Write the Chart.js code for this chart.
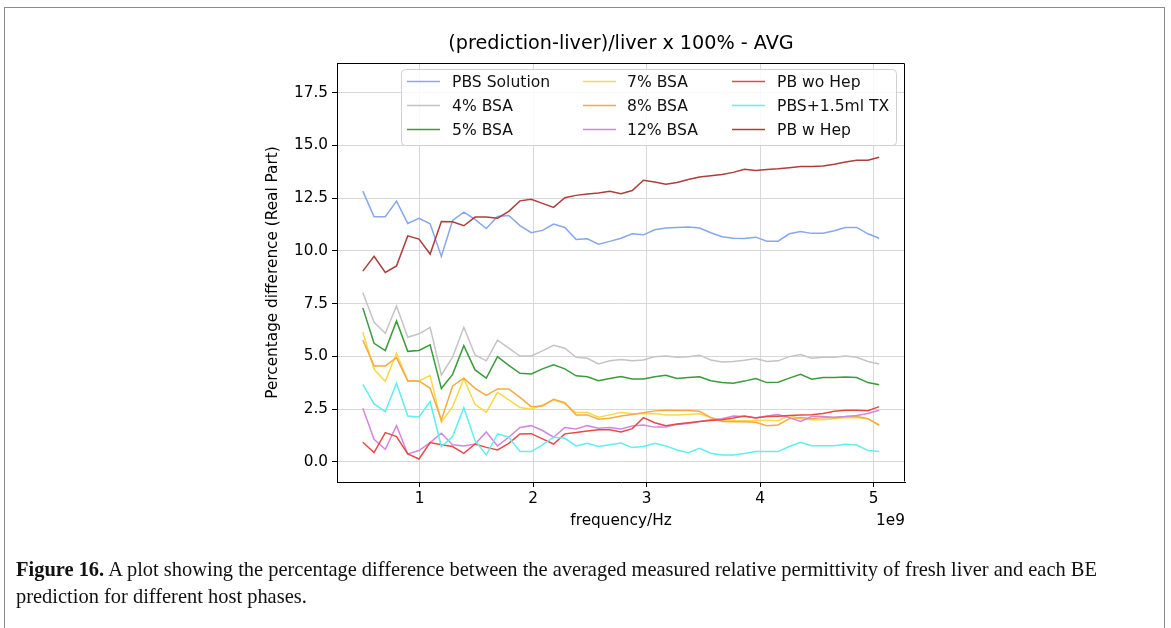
<!DOCTYPE html>
<html>
<head>
<meta charset="utf-8">
<script src="https://cdn.jsdelivr.net/npm/chart.js@4.4.1/dist/chart.umd.min.js"></script>
<style>
  html, body { margin: 0; padding: 0; background: #fff; }
  body { width: 1171px; height: 628px; position: relative; overflow: hidden; }
  #frame { position: absolute; left: 4px; top: 7px; width: 1161px; height: 640px; border: 1px solid #8c8c8c; box-sizing: border-box; }
  #c { position: absolute; left: 0; top: 0; }
  #cap { position: absolute; left: 16px; top: 556px; font-family: "Liberation Serif", serif; font-size: 17px; line-height: 27px; color: #111; white-space: nowrap; }
</style>
</head>
<body>
<div id="frame"></div>
<canvas id="c" width="1171" height="628"></canvas>
<div id="cap"><span id="l1"><b>Figure 16.</b> A plot showing the percentage difference between the averaged measured relative permittivity of fresh liver and each BE</span><br><span id="l2">prediction for different host phases.</span></div>
<script>
// ---------------- data ----------------
const freqGHz = [0.500, 0.599, 0.698, 0.797, 0.896, 0.995, 1.093, 1.192, 1.291, 1.390, 1.489, 1.588,
  1.687, 1.786, 1.885, 1.984, 2.083, 2.181, 2.280, 2.379, 2.478, 2.577, 2.676, 2.775, 2.874, 2.973,
  3.072, 3.170, 3.269, 3.368, 3.467, 3.566, 3.665, 3.764, 3.863, 3.962, 4.061, 4.159, 4.258, 4.357,
  4.456, 4.555, 4.654, 4.753, 4.852, 4.951, 5.050];

const seriesNames = ["PBS Solution", "4% BSA", "5% BSA", "7% BSA", "8% BSA", "12% BSA", "PB wo Hep", "PBS+1.5ml TX", "PB w Hep"];

const pbsSolution = [12.83, 11.62, 11.62, 12.36, 11.30, 11.54, 11.28, 9.74, 11.44, 11.84, 11.49, 11.06, 11.63, 11.68, 11.20, 10.86, 10.97, 11.27, 11.11, 10.54, 10.57, 10.32, 10.45, 10.60,
  10.81, 10.76, 11.00, 11.08, 11.11, 11.13, 11.08, 10.86, 10.67, 10.60, 10.59, 10.65, 10.46, 10.46, 10.81, 10.92, 10.83, 10.84, 10.95, 11.11, 11.11, 10.81, 10.60];
const bsa4 = [8.03, 6.62, 6.10, 7.39, 5.91, 6.07, 6.38, 4.12, 4.96, 6.38, 5.07, 4.79,
  5.77, 5.39, 5.02, 5.02, 5.26, 5.53, 5.39, 4.96, 4.91, 4.64, 4.79, 4.85,
  4.80, 4.83, 4.99, 5.02, 4.96, 4.99, 5.06, 4.83, 4.74, 4.76, 4.82,
  4.90, 4.76, 4.79, 4.99, 5.09, 4.91, 4.96, 4.96, 5.02, 4.96, 4.76, 4.64];
const bsa5 = [7.30, 5.62, 5.28, 6.68, 5.24, 5.28, 5.55, 3.48, 4.15, 5.51, 4.36, 3.97,
  4.99, 4.58, 4.20, 4.17, 4.41, 4.60, 4.41, 4.08, 4.04, 3.85, 3.95, 4.05,
  3.93, 3.93, 4.04, 4.11, 3.95, 4.00, 4.04, 3.85, 3.76, 3.73, 3.83,
  3.95, 3.76, 3.78, 3.97, 4.15, 3.92, 4.00, 4.00, 4.03, 4.00, 3.76, 3.66];
const bsa7 = [6.15, 4.39, 3.82, 5.15, 3.84, 3.84, 4.09, 1.88, 2.62, 3.93, 2.73, 2.35,
  3.30, 2.94, 2.58, 2.50, 2.70, 2.94, 2.75, 2.34, 2.34, 2.12, 2.23,
  2.34, 2.30, 2.28, 2.30, 2.22, 2.22, 2.25, 2.28, 2.10, 1.98, 1.95, 1.95, 1.95, 1.98, 1.95, 2.20, 2.05, 2.00, 2.00, 2.05, 2.10, 2.10, 2.05, 1.72];
const bsa8 = [5.78, 4.55, 4.55, 4.94, 3.84, 3.84, 3.49, 1.99, 3.60, 3.97, 3.49, 3.15,
  3.46, 3.46, 3.06, 2.62, 2.65, 2.97, 2.81, 2.23, 2.23, 2.02, 2.07,
  2.18, 2.25, 2.33, 2.42, 2.45, 2.44, 2.44, 2.40, 2.10, 1.92, 1.90, 1.90, 1.88, 1.72, 1.75, 2.05, 2.10, 2.05, 2.10, 2.10, 2.15, 2.15, 2.05, 1.75];
const bsa12 = [2.54, 1.07, 0.60, 1.72, 0.38, 0.54, 0.92, 1.36, 0.81, 0.76, 0.85, 1.42,
  0.76, 1.17, 1.63, 1.72, 1.49, 1.17, 1.63, 1.56, 1.72, 1.60, 1.63,
  1.56, 1.70, 1.75, 1.65, 1.65, 1.78, 1.82, 1.92, 2.00, 2.05, 2.18, 2.15, 2.10, 2.18, 2.25, 2.10, 1.92, 2.15, 2.15, 2.12, 2.15, 2.20, 2.30, 2.45];
const pbWoHep = [0.93, 0.44, 1.39, 1.20, 0.38, 0.14, 0.92, 0.81, 0.73, 0.41, 0.85, 0.69,
  0.57, 0.88, 1.33, 1.34, 1.09, 0.85, 1.33, 1.39, 1.47, 1.52,
  1.52, 1.42, 1.58, 2.10, 1.86, 1.72, 1.80, 1.86, 1.92, 1.96, 2.00, 2.08, 2.18, 2.08, 2.15, 2.17, 2.20, 2.22, 2.24, 2.30, 2.40, 2.45, 2.45, 2.43, 2.62];
const pbsTx = [3.68, 2.75, 2.39, 3.73, 2.18, 2.13, 2.86, 0.73, 1.20, 2.57, 1.01, 0.33,
  1.33, 1.17, 0.49, 0.49, 0.81, 1.17, 1.12, 0.76, 0.88, 0.73, 0.81,
  0.90, 0.68, 0.73, 0.88, 0.76, 0.57, 0.44, 0.65, 0.41, 0.33, 0.33,
  0.40, 0.49, 0.49, 0.49, 0.73, 0.93, 0.77, 0.77, 0.77, 0.84, 0.80, 0.54, 0.49];
const pbWHep = [9.04, 9.74, 8.98, 9.29, 10.71, 10.56, 9.85, 11.39, 11.38, 11.19, 11.60, 11.60, 11.55, 11.87, 12.37, 12.45, 12.25, 12.06, 12.52, 12.63, 12.69, 12.74, 12.82, 12.71,
  12.86, 13.35, 13.26, 13.16, 13.24, 13.38, 13.50, 13.56, 13.62, 13.72, 13.87, 13.81, 13.86, 13.89, 13.94, 14.00, 14.00, 14.02, 14.10, 14.21, 14.29, 14.30, 14.44];

const xTicks = [1, 2, 3, 4, 5];
const yTicks = [0.0, 2.5, 5.0, 7.5, 10.0, 12.5, 15.0, 17.5];
const titleText = "(prediction-liver)/liver x 100% - AVG";
const xLabel = "frequency/Hz";
const xOffsetLabel = "1e9";
const yLabel = "Percentage difference (Real Part)";

// ---------------- styles ----------------
const colors = ["#86a8ec", "#c4c4c4", "#3a9c3a", "#f8da46", "#f6aa42", "#d387df", "#eb4848", "#5ef0f0", "#b03c3c"];
const seriesValues = [pbsSolution, bsa4, bsa5, bsa7, bsa8, bsa12, pbWoHep, pbsTx, pbWHep];
const FONT = "DejaVu Sans";

const datasets = seriesValues.map((vals, k) => ({
  label: seriesNames[k],
  data: vals.map((v, i) => ({ x: freqGHz[i], y: v })),
  borderColor: colors[k],
  backgroundColor: colors[k],
  borderWidth: 1.5,
  pointRadius: 0,
  tension: 0,
  fill: false,
  order: seriesValues.length - k
}));

const overlay = {
  id: "overlay",
  afterDraw(chart) {
    const ctx = chart.ctx, a = chart.chartArea;
    ctx.save();
    // top and right spines
    ctx.strokeStyle = "#000"; ctx.lineWidth = 1;
    ctx.beginPath();
    const L = Math.round(a.left) + 0.5, R = Math.round(a.right) - 0.5, T = Math.round(a.top) + 0.5, B = Math.round(a.bottom) - 0.5;
    ctx.moveTo(L, T); ctx.lineTo(R, T); ctx.lineTo(R, B);
    ctx.stroke();
    // offset label
    ctx.fillStyle = "#000";
    ctx.font = "15.3px '" + FONT + "'";
    ctx.textAlign = "right"; ctx.textBaseline = "middle";
    ctx.fillText(xOffsetLabel, a.right, 521);
    // legend (3 columns, column-major like matplotlib ncol=3)
    const bx = 401, by = 69, bw = 495, bh = 76;
    ctx.beginPath();
    ctx.roundRect(bx + 0.5, by + 0.5, bw, bh, 4);
    ctx.fillStyle = "rgba(255,255,255,0.85)"; ctx.fill();
    ctx.strokeStyle = "#d0d0d0"; ctx.lineWidth = 1; ctx.stroke();
    const colLine = [407, 583, 732], colText = [452, 627, 777], rowY = [81.5, 105.5, 129.5];
    ctx.font = "15.6px '" + FONT + "'";
    ctx.textAlign = "left"; ctx.textBaseline = "middle";
    chart.data.datasets.forEach((ds, k) => {
      const col = Math.floor(k / 3), row = k % 3;
      const y = rowY[row];
      ctx.strokeStyle = ds.borderColor; ctx.lineWidth = 1.6;
      ctx.beginPath(); ctx.moveTo(colLine[col], y); ctx.lineTo(colLine[col] + 33, y); ctx.stroke();
      ctx.fillStyle = "#111";
      ctx.fillText(ds.label, colText[col], y + 1);
    });
    ctx.restore();
  }
};

new Chart(document.getElementById("c"), {
  type: "line",
  data: { datasets },
  options: {
    responsive: false,
    animation: false,
    devicePixelRatio: 1,
    layout: { padding: { left: 260, right: 266, top: 20, bottom: 94 } },
    plugins: {
      legend: { display: false },
      tooltip: { enabled: false },
      title: {
        display: true, text: titleText, fullSize: false, color: "#000",
        font: { family: FONT, size: 19.2, weight: "normal" },
        padding: { top: 12, bottom: 8 }
      }
    },
    scales: {
      x: {
        type: "linear", min: 0.2725, max: 5.2775,
        afterBuildTicks: s => { s.ticks = xTicks.map(v => ({ value: v })); },
        afterFit: s => { s.height = 52; },
        ticks: { color: "#000", font: { family: FONT, size: 15.3 }, padding: 3, maxRotation: 0, callback: v => String(v) },
        grid: { color: "#d8d8d8", lineWidth: 1, tickColor: "#000", tickLength: 5 },
        border: { display: true, color: "#000", width: 1 },
        title: { display: true, text: xLabel, color: "#000", font: { family: FONT, size: 15.3 }, padding: { top: 4, bottom: 4 } }
      },
      y: {
        type: "linear", min: -0.95, max: 18.9,
        afterBuildTicks: s => { s.ticks = yTicks.map(v => ({ value: v })); },
        afterFit: s => { s.width = 77; },
        ticks: { color: "#000", font: { family: FONT, size: 15.3 }, padding: 4, callback: v => v.toFixed(1) },
        grid: { color: "#d8d8d8", lineWidth: 1, tickColor: "#000", tickLength: 5 },
        border: { display: true, color: "#000", width: 1 },
        title: { display: true, text: yLabel, color: "#000", font: { family: FONT, size: 15.3 }, padding: { top: 4, bottom: 4 } }
      }
    }
  },
  plugins: [overlay]
});

// fit caption first line to reference width
(function () {
  const l1 = document.getElementById("l1");
  const w = l1.getBoundingClientRect().width;
  const target = 1082;
  const cap = document.getElementById("cap");
  cap.style.fontSize = (17 * target / w).toFixed(2) + "px";
})();
</script>
</body>
</html>
